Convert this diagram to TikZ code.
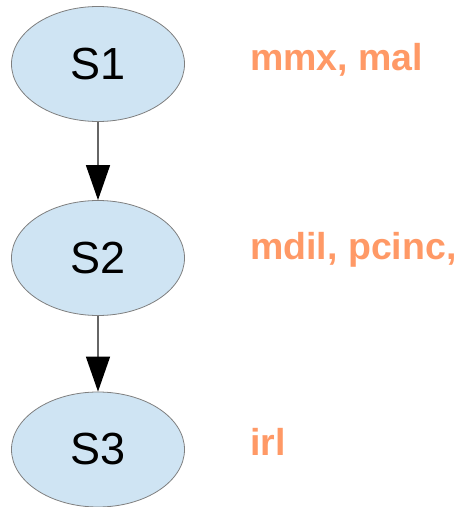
\documentclass[tikz,border=0pt]{standalone}
\usepackage{fontspec}
\setmainfont{Liberation Sans}
\usetikzlibrary{arrows.meta,shapes.geometric}
\definecolor{stfill}{HTML}{CFE4F3}
\definecolor{stdraw}{HTML}{7F7F7F}
\definecolor{lblcol}{HTML}{FF9966}
\tikzset{
  state/.style={ellipse, draw=stdraw, line width=0.8pt, fill=stfill,
    minimum width=173pt, minimum height=115pt, inner sep=0pt,
    font=\fontsize{45}{45}\selectfont},
  lbl/.style={anchor=base west, inner sep=0pt, text=lblcol,
    font=\fontsize{37.5}{37.5}\selectfont\bfseries},
  conn/.style={draw=stdraw!80!black, line width=1.5pt,
    -{Triangle[length=35pt,width=24pt,black]}, shorten >=0pt}
}
\begin{document}
\begin{tikzpicture}[x=1pt,y=1pt]
\useasboundingbox (0,0) rectangle (459,507);
\node[state] (s1) at (98,443) {S1};
\node[state] (s2) at (98,249) {S2};
\node[state] (s3) at (98,57.5) {S3};
\draw[conn] (s1) -- (s2);
\draw[conn] (s2) -- (s3);
\node[lbl] (l1) at (250,436) {mmx, mal};
\node[lbl] (l2) at (250,247) {mdil, pcinc,};
\node[lbl] (l3) at (250,52) {irl};
\end{tikzpicture}
\end{document}
